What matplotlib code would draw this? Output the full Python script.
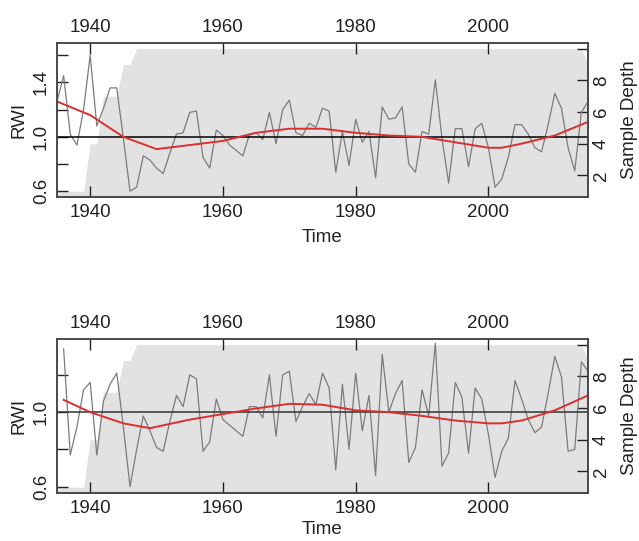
import numpy as np
import matplotlib
matplotlib.use('Agg')
import matplotlib.pyplot as plt

plt.rcParams['font.family'] = ['Liberation Sans', 'DejaVu Sans']
plt.rcParams['font.size'] = 13.5

# years of the chronology
years = np.arange(1935, 2016)

# upper chronology (RWI), 1935-2015
rwi_top = [1.26, 1.45, 1.02, 0.94, 1.20, 1.60, 1.08, 1.21, 1.36, 1.36,
           0.99, 0.60, 0.63, 0.86, 0.83, 0.77, 0.73, 0.88, 1.02, 1.03,
           1.18, 1.19, 0.85, 0.77, 1.05, 1.01, 0.94, 0.90, 0.86, 1.02,
           1.03, 0.98, 1.18, 0.95, 1.20, 1.27, 1.03, 1.01, 1.10, 1.07,
           1.21, 1.19, 0.74, 1.04, 0.79, 1.13, 0.96, 1.04, 0.70, 1.22,
           1.13, 1.14, 1.22, 0.80, 0.74, 1.04, 1.02, 1.42, 0.99, 0.66,
           1.06, 1.06, 0.78, 1.06, 1.10, 0.92, 0.63, 0.69, 0.85, 1.09,
           1.09, 1.02, 0.92, 0.89, 1.09, 1.32, 1.21, 0.92, 0.75, 1.18,
           1.26]

# lower chronology (RWI), no value in 1935
rwi_bot = [np.nan, 1.34, 0.77, 0.92, 1.12, 1.16, 0.77, 1.06, 1.15, 1.21,
           0.92, 0.60, 0.80, 0.98, 0.90, 0.81, 0.79, 0.95, 1.09, 1.03,
           1.20, 1.18, 0.79, 0.84, 1.07, 0.96, 0.93, 0.90, 0.87, 1.03,
           1.03, 0.97, 1.20, 0.87, 1.20, 1.22, 0.95, 1.03, 1.10, 1.04,
           1.21, 1.13, 0.69, 1.15, 0.80, 1.21, 0.90, 1.09, 0.66, 1.31,
           1.00, 1.10, 1.17, 0.73, 0.81, 1.12, 0.98, 1.37, 0.71, 0.78,
           1.16, 1.08, 0.78, 1.13, 1.07, 0.88, 0.65, 0.79, 0.86, 1.17,
           1.07, 0.96, 0.89, 0.92, 1.10, 1.30, 1.19, 0.79, 0.80, 1.27,
           1.22]

# smoothed curves (read every ~5 years)
spl_top_yr = [1935, 1940, 1945, 1950, 1955, 1960, 1965, 1970, 1975, 1980,
              1985, 1990, 1995, 2000, 2002, 2005, 2010, 2015]
spl_top = [1.26, 1.16, 1.00, 0.91, 0.94, 0.97, 1.03, 1.06, 1.06, 1.03,
           1.01, 1.00, 0.96, 0.92, 0.92, 0.95, 1.01, 1.11]
spl_bot_yr = [1936, 1940, 1945, 1949, 1955, 1960, 1965, 1970, 1975, 1980,
              1985, 1990, 1995, 2000, 2002, 2005, 2010, 2015]
spl_bot = [1.066, 1.00, 0.94, 0.914, 0.96, 0.99, 1.02, 1.045, 1.04, 1.01,
           1.00, 0.98, 0.955, 0.94, 0.94, 0.955, 1.01, 1.09]

# sample depth (break points)
depth_yr = [1935, 1939, 1940, 1941, 1942, 1944, 1945, 1946, 1947, 2014, 2015]
depth_n = [1, 1, 4, 4, 7, 7, 9, 9, 10, 10, 9]

W, H = 639, 541
fig = plt.figure(figsize=(W / 100, H / 100), dpi=100)

txt = '#222222'


def panel(box, rwi, syr, sval, ylim, yticks, ylabs, lc):
    # box = (left, top, right, bottom) in pixels
    l, t, r, b = box
    ax = fig.add_axes([l / W, 1 - b / H, (r - l) / W, (b - t) / H])
    ax2 = ax.twinx()
    ax.set_zorder(2)
    ax.patch.set_visible(False)

    ax2.fill_between(depth_yr, 0, depth_n, color='#e2e2e2', lw=0)
    ax2.set_ylim(0.64, 10.36)
    ax2.set_yticks([2, 4, 6, 8, 10])
    ax2.set_yticklabels(['2', '4', '6', '8', ''])
    ax2.tick_params(axis='y', direction='in', length=8, pad=3.5,
                    labelrotation=90, colors=txt, width=1)
    for lab in ax2.get_yticklabels():
        lab.set_va('center')

    ax.plot(years, rwi, color='#7c7c7c', lw=0.9)
    ax.axhline(1.0, color=lc, lw=1.1)
    ax.plot(syr, sval, color='#d9302f', lw=1.4)

    ax.set_xlim(1935, 2015)
    ax.set_ylim(*ylim)
    ax.set_xticks([1940, 1960, 1980, 2000])
    ax.tick_params(axis='x', direction='in', length=8, top=True,
                   labeltop=True, pad=5, colors=txt, width=1)
    ax.set_yticks(yticks)
    ax.set_yticklabels(ylabs)
    ax.tick_params(axis='y', direction='in', length=8, pad=5,
                   labelrotation=90, colors=txt, width=1)
    for lab in ax.get_yticklabels():
        lab.set_va('center')

    for a in (ax, ax2):
        for s in a.spines.values():
            s.set_color('#444444')
            s.set_linewidth(1.1)

    ax.text(-0.072, 0.5, 'RWI', rotation=90, ha='center', va='center',
            transform=ax.transAxes, color=txt)
    ax.text(1.079, 0.5, 'Sample Depth', rotation=90, ha='center',
            va='center', transform=ax.transAxes, color=txt)
    return ax


ax1 = panel((57, 43, 588, 197), rwi_top, spl_top_yr, spl_top,
            (0.558, 1.69), [0.6, 0.8, 1.0, 1.2, 1.4, 1.6],
            ['0.6', '', '1.0', '', '1.4', ''], 'black')
ax1.text(0.5, -(238 - 197) / 154, 'Time', ha='center', va='center',
         transform=ax1.transAxes, color=txt)

ax2 = panel((57, 339, 588, 493), rwi_bot, spl_bot_yr, spl_bot,
            (0.566, 1.393), [0.6, 0.8, 1.0, 1.2],
            ['0.6', '', '1.0', ''], '#333333')
ax2.text(0.5, -(530 - 493) / 154, 'Time', ha='center', va='center',
         transform=ax2.transAxes, color=txt)

fig.savefig('out.png', dpi=100)
